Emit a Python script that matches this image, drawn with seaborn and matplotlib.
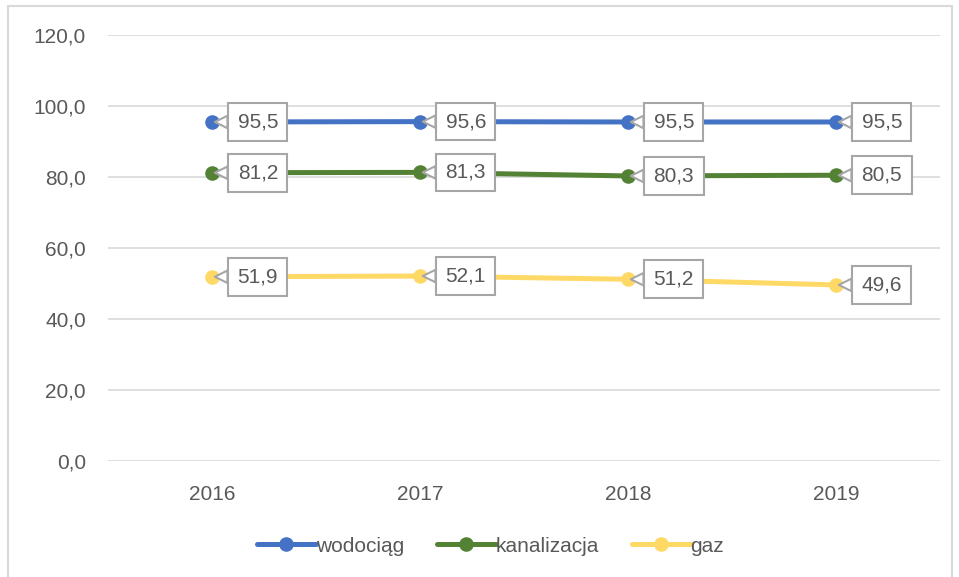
import matplotlib
matplotlib.use("Agg")
import matplotlib.pyplot as plt
import seaborn as sns
import pandas as pd
from matplotlib.patches import Rectangle

years = ["2016", "2017", "2018", "2019"]
series_names = ["wodociąg", "kanalizacja", "gaz"]
wodociag = [95.5, 95.6, 95.5, 95.5]
kanalizacja = [81.2, 81.3, 80.3, 80.5]
gaz = [51.9, 52.1, 51.2, 49.6]
colors = ["#4472C4", "#548235", "#FFD966"]
yticks = [0, 20, 40, 60, 80, 100, 120]

rows = []
for name, vals in zip(series_names, [wodociag, kanalizacja, gaz]):
    for y, v in zip(years, vals):
        rows.append({"rok": y, "wartosc": v, "seria": name})
df = pd.DataFrame(rows)

sns.set_theme(style="white")
plt.rcParams["font.family"] = ["Liberation Sans", "DejaVu Sans"]

fig = plt.figure(figsize=(9.59, 5.77), dpi=100)
ax = fig.add_axes([108 / 959, 1 - 461 / 577, 832 / 959, 426 / 577])

# outer border
fig.patches.append(Rectangle((8 / 959, -0.01), 944 / 959, 1 - 6 / 577 + 0.01,
                             transform=fig.transFigure, fill=False,
                             ec="#D9D9D9", lw=1.5, zorder=0))

sns.lineplot(data=df, x="rok", y="wartosc", hue="seria", palette=colors,
             marker="o", markersize=10.5, markeredgewidth=0, linewidth=3.6,
             sort=False, ax=ax, legend=True)

ax.set_xlim(-0.5, 3.5)
ax.set_ylim(0, 120)
ax.set_yticks(yticks)
ax.set_yticklabels([f"{t:.1f}".replace(".", ",") for t in yticks])
ax.yaxis.grid(True, color="#D9D9D9", lw=1.2)
ax.xaxis.grid(False)
for s in ax.spines.values():
    s.set_visible(False)
ax.tick_params(axis="y", length=0, pad=16, labelsize=15, labelcolor="#595959")
ax.tick_params(axis="x", length=0, pad=17, labelsize=15, labelcolor="#595959")
ax.set_xlabel("")
ax.set_ylabel("")

for vals in [wodociag, kanalizacja, gaz]:
    for i, v in enumerate(vals):
        ax.annotate(f"{v:.1f}".replace(".", ","), xy=(i, v),
                    xytext=(33, 0), textcoords="offset points",
                    ha="center", va="center", fontsize=15, color="#595959",
                    bbox=dict(boxstyle="square,pad=0.45", fc="white",
                              ec="#A6A6A6", lw=1.5),
                    arrowprops=dict(arrowstyle="wedge,tail_width=0.6,shrink_factor=0.5",
                                    fc="white", ec="#A6A6A6", lw=1.5,
                                    shrinkA=0, shrinkB=2),
                    zorder=5)

handles, labels = ax.get_legend_handles_labels()
ax.legend(handles, labels, loc="center", bbox_to_anchor=(0.46, -0.2),
          ncol=3, frameon=False, fontsize=15, handlelength=2.8,
          handletextpad=0.0, columnspacing=1.6, labelcolor="#595959")

fig.savefig("out.png", dpi=100)
